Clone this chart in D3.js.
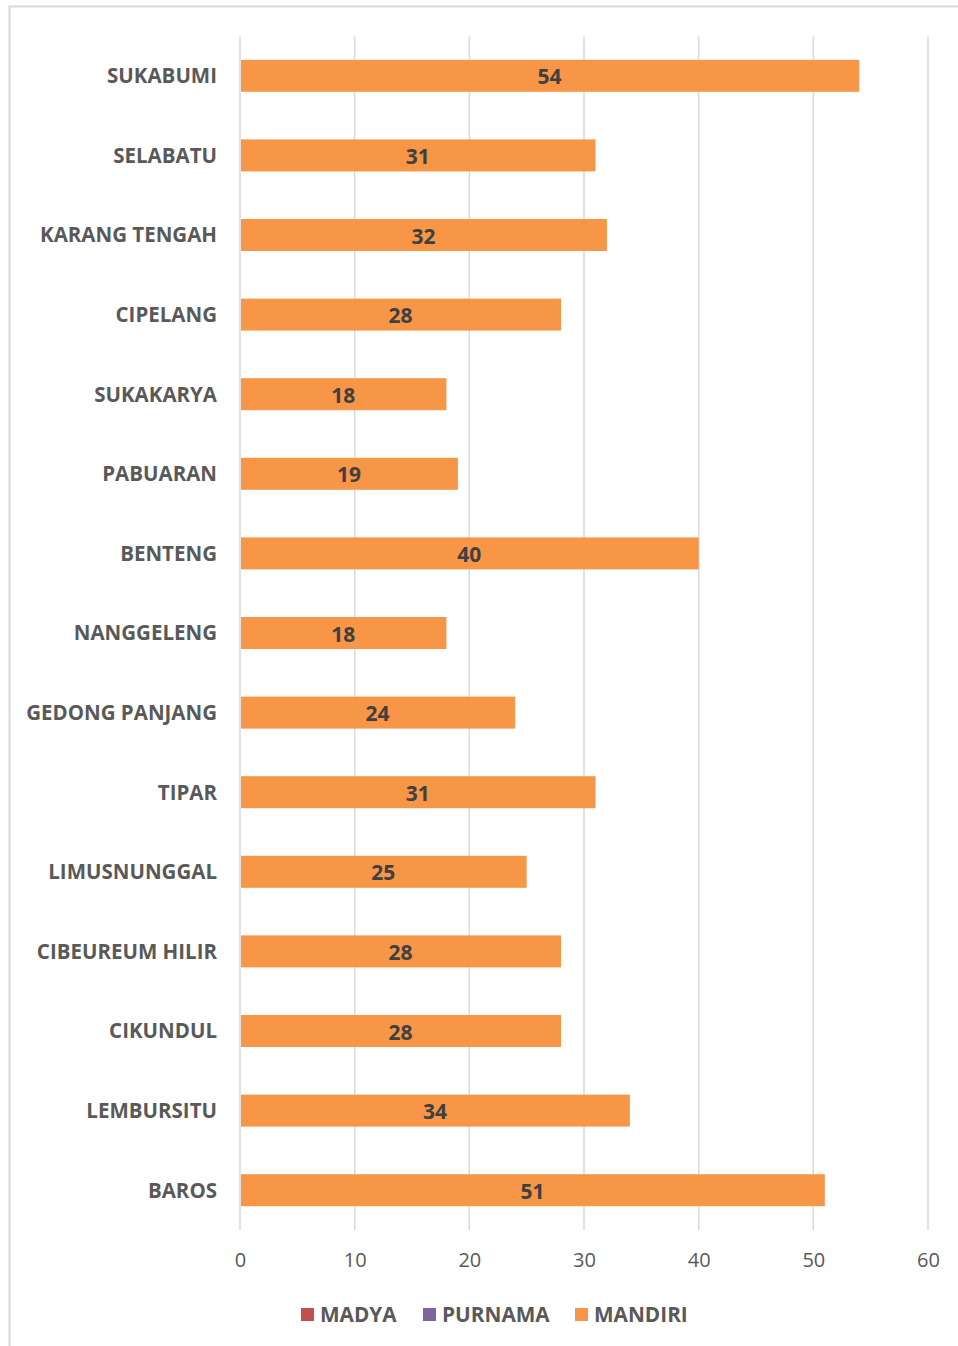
<!DOCTYPE html>
<html><head><meta charset="utf-8">
<script src="https://cdn.jsdelivr.net/npm/d3@7/dist/d3.min.js"></script>
<style>body{margin:0;background:#fff}svg{display:block}</style>
</head><body>
<svg id="c" width="958" height="1346"></svg>
<script>
const categories = ["SUKABUMI","SELABATU","KARANG TENGAH","CIPELANG","SUKAKARYA","PABUARAN","BENTENG","NANGGELENG","GEDONG PANJANG","TIPAR","LIMUSNUNGGAL","CIBEUREUM HILIR","CIKUNDUL","LEMBURSITU","BAROS"];
const madya = [0,0,0,0,0,0,0,0,0,0,0,0,0,0,0];
const purnama = [0,0,0,0,0,0,0,0,0,0,0,0,0,0,0];
const mandiri = [54,31,32,28,18,19,40,18,24,31,25,28,28,34,51];
const ticks = [0,10,20,30,40,50,60];
const seriesNames = ["MADYA","PURNAMA","MANDIRI"];
const seriesColors = ["#c0504d","#8064a2","#f79646"];

const svg = d3.select("#c");
const font = "'Open Sans', sans-serif";
// frame
svg.append("path").attr("d","M9.5,1346 V6.5 H958").attr("fill","none").attr("stroke","#d9d9d9").attr("stroke-width",2);

const x = d3.scaleLinear().domain([0,60]).range([240,928]);
const y = d3.scaleBand().domain(categories).range([36,1230]).paddingInner(0.6).paddingOuter(0.3);

const g = svg.append("g");
g.selectAll("line.grid").data(ticks).join("line").attr("class","grid")
 .attr("x1",d=>x(d)).attr("x2",d=>x(d)).attr("y1",36).attr("y2",1230)
 .attr("stroke","#d9d9d9").attr("stroke-width",1.5);

g.selectAll("rect.bar").data(categories).join("rect").attr("class","bar")
 .attr("x",x(0)+1).attr("y",d=>y(d)+y.bandwidth()/2-16).attr("height",32)
 .attr("width",(d,i)=>x(mandiri[i])-x(0)-1).attr("fill","#f79646");

g.selectAll("text.val").data(categories).join("text").attr("class","val")
 .attr("x",(d,i)=>(x(0)+x(mandiri[i]))/2).attr("y",d=>y(d)+y.bandwidth()/2+1)
 .attr("dy","0.36em").attr("text-anchor","middle").attr("font-family",font)
 .attr("font-weight","bold").attr("font-size",21).attr("fill","#404040")
 .text((d,i)=>mandiri[i]);

g.selectAll("text.cat").data(categories).join("text").attr("class","cat")
 .attr("x",217).attr("y",d=>y(d)+y.bandwidth()/2).attr("dy","0.36em")
 .attr("text-anchor","end").attr("font-family",font).attr("font-weight","bold")
 .attr("font-size",20.5).attr("fill","#595959").text(d=>d);

const ax = svg.append("g").attr("transform","translate(0,1230)")
 .call(d3.axisBottom(x).tickValues(ticks).tickSize(0).tickPadding(23));
ax.select(".domain").remove();
ax.selectAll("text").attr("font-family",font).attr("font-size",20).attr("fill","#595959");

// legend
const legX = [301,423,575];
const lg = svg.append("g");
seriesNames.forEach((n,i)=>{
  lg.append("rect").attr("x",legX[i]).attr("y",1308).attr("width",13).attr("height",13).attr("fill",seriesColors[i]);
  lg.append("text").attr("x",legX[i]+19).attr("y",1314.5).attr("dy","0.36em")
   .attr("font-family",font).attr("font-weight","bold").attr("font-size",20.8).attr("fill","#595959").text(n);
});
</script>
</body></html>
